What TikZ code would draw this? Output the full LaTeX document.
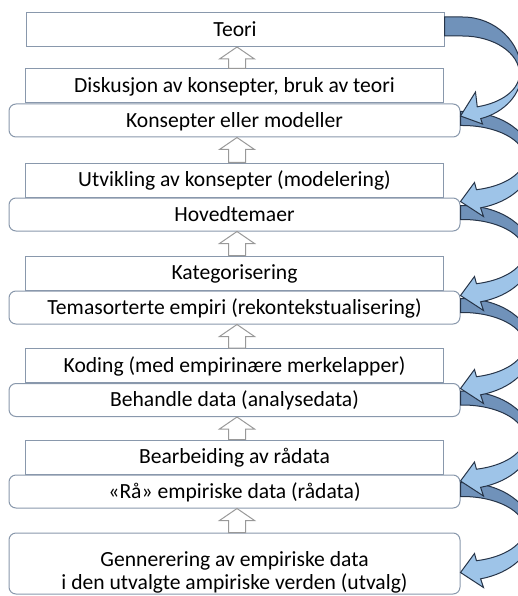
\documentclass[tikz,border=0pt]{standalone}
\usepackage{fontspec}
\setmainfont{Carlito}
\usetikzlibrary{positioning,calc}

\definecolor{boxline}{RGB}{137,152,172}
\definecolor{arrowline}{RGB}{38,52,72}
\definecolor{bandlight}{RGB}{158,196,232}
\definecolor{banddark}{RGB}{112,146,186}

\tikzset{
  plainbox/.style={draw=boxline, fill=white, line width=1pt, minimum width=418pt,
    minimum height=34pt, inner sep=0pt, text height=13.8pt, text depth=0pt},
  roundbox/.style={plainbox, rounded corners=7pt, minimum width=451pt, minimum height=33pt},
  uparrow/.style={draw=gray!80, fill=white, line width=1pt},
  bandtail/.style={draw=arrowline, fill=banddark, line width=1pt},
  bandhead/.style={draw=arrowline, fill=bandlight, line width=1pt},
}

\begin{document}
\begin{tikzpicture}[x=1pt, y=-1pt, font=\fontsize{21.6pt}{23pt}\selectfont]
  \useasboundingbox (0,0) rectangle (518,596);
  % boxes
  \node[plainbox] (teori) at (235,29.5) {Teori};
  \node[roundbox] (kons) at (234.5,120.5) {Konsepter eller modeller};
  \node[plainbox, above=0pt of kons] (disk) {Diskusjon av konsepter, bruk av teori};
  \node[roundbox] (hoved) at (234.5,214.5) {Hovedtemaer};
  \node[plainbox, above=0pt of hoved] (utv) {Utvikling av konsepter (modelering)};
  \node[roundbox] (tema) at (234.5,307.5) {Temasorterte empiri (rekontekstualisering)};
  \node[plainbox, above=0pt of tema] (kat) {Kategorisering};
  \node[roundbox] (beh) at (234.5,400) {Behandle data (analysedata)};
  \node[plainbox, above=0pt of beh] (kod) {Koding (med empirinære merkelapper)};
  \node[roundbox] (raa) at (234.5,491.5) {«Rå» empiriske data (rådata)};
  \node[plainbox, above=0pt of raa] (bearb) {Bearbeiding av rådata};
  \node[roundbox, minimum height=61pt, text height=51pt] (genn) at (234.5,563.5)
    {\parbox[b]{440pt}{\centering Gennerering av empiriske data\\i den utvalgte ampiriske verden (utvalg)}};

  % steps upwards
  \coordinate (axis) at (237,0);
  \foreach \lo/\up in {disk/teori, utv/kons, kat/hoved, kod/tema, bearb/beh, genn/raa}
    \draw[uparrow] (axis |- \up.south) -- ++(17.5,12) -- ++(-9,0)
      -- ($(axis |- \lo.north)+(8.5,0)$) -- ++(-17,0)
      -- ($(axis |- \up.south)+(-8.5,12)$) -- ++(-9,0) -- cycle;

  % curved arrows, cut at the right edge
  \begin{scope}
  \clip (0,0) rectangle (518,596);
  \draw[bandtail] ($(teori.north east)+(0,5)$) -- ++(18,0)
    arc[start angle=-90, end angle=0, x radius=59, y radius=56] -- ++(-2,1)
    arc[start angle=0, end angle=-90, x radius=57, y radius=38]
    -- ($(teori.north east)+(0,24)$) -- cycle;
  \foreach \s in {kons, hoved, tema, beh, raa}
    \draw[bandtail, shift={(\s.north east)}] (0,8) -- (2,8)
      arc[start angle=-90, end angle=0, x radius=70, y radius=49] -- (64,54.5)
      arc[start angle=0, end angle=-90, x radius=62, y radius=32.5] -- (0,22) -- cycle;
  \draw[bandhead] ($(teori.north east)+(77,61)$)
    arc[start angle=0, end angle=72, x radius=59, y radius=48]
    -- ($(teori.north east)+(38,112)$) -- ($(teori.north east)+(16,104)$)
    -- ($(teori.north east)+(31,80)$) -- ($(teori.north east)+(32.75,94.8)$)
    arc[start angle=75, end angle=0, x radius=57, y radius=34] -- cycle;
  \foreach \s in {kons, hoved, tema, beh, raa}
    \draw[bandhead, shift={(\s.north east)}] (72,57)
      arc[start angle=0, end angle=75, x radius=70, y radius=49]
      -- (23,113) -- (0,98) -- (14,79) -- (15.95,86.2)
      arc[start angle=77, end angle=0, x radius=62, y radius=32.5] -- cycle;
  \end{scope}
\end{tikzpicture}
\end{document}
